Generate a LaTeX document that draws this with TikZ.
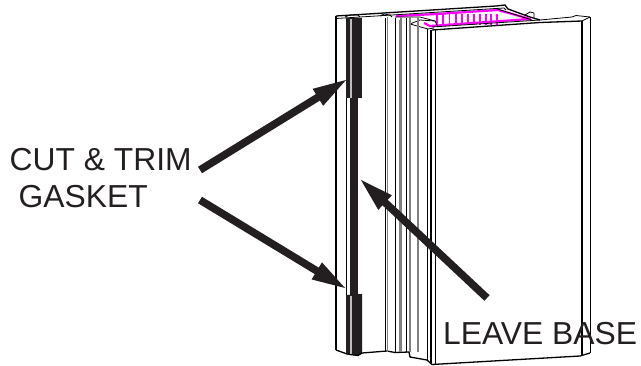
\documentclass[tikz,border=0pt]{standalone}
\usepackage{fontspec}
\usetikzlibrary{calc}
\setmainfont{Liberation Sans}
\definecolor{ink}{RGB}{35,31,32}
\definecolor{mag}{RGB}{255,0,255}
\tikzset{
 x=1pt,y=-1pt,
 edge/.style={draw=black,line width=1.3pt,line join=round},
 thin edge/.style={draw=black,line width=.8pt,line join=round},
 grey edge/.style={draw=black!50,line width=1.3pt},
 gasket/.style={fill=ink,draw=none},
 pointer/.style={draw=ink,line width=7.6pt},
 head/.style={fill=ink,draw=none},
 label/.style={font=\fontsize{31.8}{34}\selectfont,text=ink,inner sep=0pt,anchor=base west},
}
\begin{document}
\begin{tikzpicture}
\useasboundingbox (0,0) rectangle (641,365);
\fill[white] (0,0) rectangle (641,365);
% magenta section
\draw[mag,line width=2.2pt,line join=round] (396,16) -- (437,14) -- (498,10) -- (530,19) -- (430,26) -- (424,23);
\foreach \xx in {437,443,449.5,456,462,468,474,480,486,491,497}{\draw[mag,line width=1.6pt] (\xx,13.5) -- (\xx,24.5);}
% top outline
\draw[edge] (336,16) -- (496,6) -- (505,5) -- (508,9) -- (530,17) -- (540,20);
\draw[thin edge] (336,18.5) -- (496,8.5) -- (504,8) -- (506,10);
\draw[thin edge] (496,8.5) -- (532,20);
\draw[thin edge] (525,15) -- (530,12) -- (534,13) -- (534,18);
\draw[thin edge] (380,16) -- (384,14) -- (390,15) -- (392,17);
\draw[thin edge] (345,17) -- (350,15) -- (358,15) -- (360,17);
\draw[thin edge] (395,17) -- (420,17) -- (435,21) -- (438,27);
\draw[thin edge] (410,24) -- (420,20) -- (435,21);
\draw[thin edge] (410,24) -- (428,29) -- (434,28);
% front panel top
\draw[edge] (432,30) -- (540,22.5) -- (582,21);
\draw[thin edge] (432,27) -- (540,20) -- (572,17) -- (576,15.5) -- (590,17);
\draw[thin edge] (582,21) -- (590,17);
% left strip
\draw[edge] (336,16) -- (336,350);
\draw[thin edge] (346,18) -- (346,353);
\draw[gasket] (346,18) rectangle (362,98);
\draw[gasket] (346,295) -- (362,294) -- (362,353) -- (358,355) -- (350,355) -- (346,353) -- cycle;
\draw[gasket] (350,90) rectangle (357.5,300);
\draw[black!25,line width=1.2pt] (351,19) -- (351,98);
\draw[black!25,line width=1.2pt] (351,296) -- (351,354);
% base of the channel
\draw[edge] (336,350) -- (347,354) -- (358,355.5) -- (362,353) -- (387,351) -- (395,352.5) -- (409,352);
\draw[edge] (409,352) -- (410,357) -- (427,360) -- (432,364.5);
% ribs
\foreach \xx in {387.5,401,410,418}{\draw[grey edge] (\xx,17) -- (\xx,352);}
\foreach \xx in {385.5,395,406}{\draw[thin edge] (\xx,18) -- (\xx,352);}
\draw[grey edge] (399.5,20) -- (399.5,352);
\draw[thin edge] (427,29) -- (427,360);
\draw[edge] (431,30) -- (431,363);
\draw[thin edge] (435,30) -- (435,364);
% front panel
\draw[edge] (432,364.5) -- (580,356) -- (590,353);
\draw[edge] (582,21) -- (582,356);
\draw[edge] (590.5,17) -- (590.5,353);
\coordinate (tipA) at (346,80);
\coordinate (tailA) at (200,170);
\coordinate (tipB) at (345,288);
\coordinate (tailB) at (200,200);
\coordinate (tipC) at (361,180);
\coordinate (tailC) at (487,298);
\foreach \ta/\tb in {tailA/tipA,tailB/tipB,tailC/tipC}{
 \draw[pointer] (\ta) -- ($(\tb)!25pt!(\ta)$);
 \fill[head] (\tb) -- ($(\tb)!33pt!(\ta)!10pt!90:(\ta)$) -- ($(\tb)!33pt!(\ta)!10pt!-90:(\ta)$) -- cycle;
}
\node[label] (cut) at (9.5,170) {CUT \& TRIM};
\node[label] (gk) at (18.5,207) {GASKET};
\node[label] (lb) at (443,344) {LEAVE BASE};
\end{tikzpicture}
\end{document}
